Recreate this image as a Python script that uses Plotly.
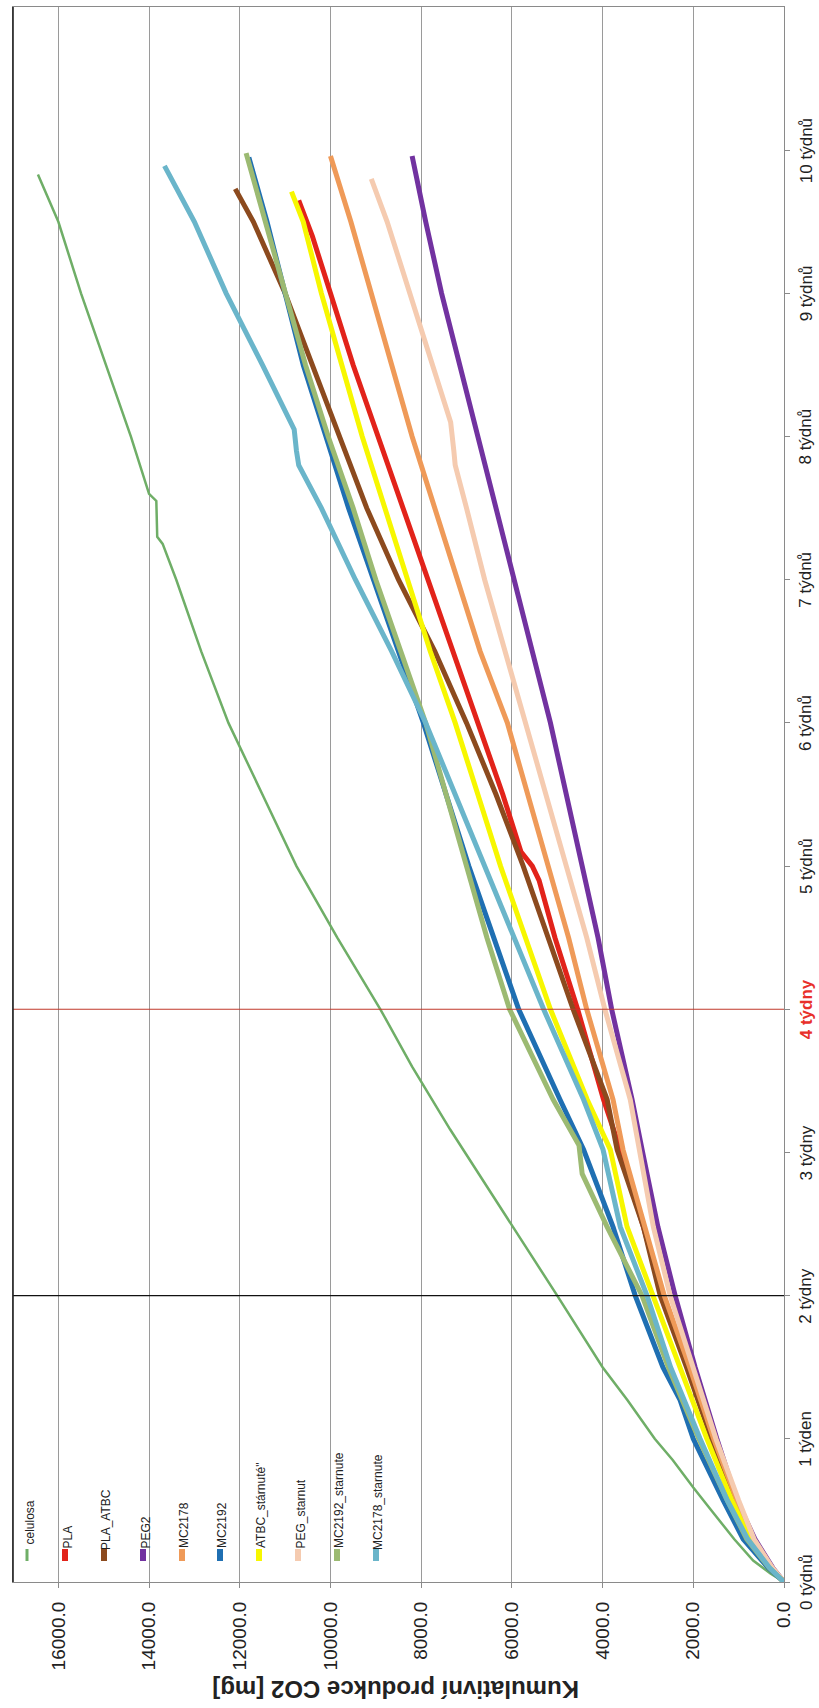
import plotly.graph_objects as go

# ---------------- data (time in weeks, cumulative CO2 in mg) ----------------
series_names = ["celulosa", "PLA", "PLA_ATBC", "PEG2", "MC2178", "MC2192",
                "ATBC_stárnuté\"", "PEG_starnut", "MC2192_starnute", "MC2178_starnute"]

celulosa_t = [0, 0.06, 0.15, 0.3, 0.5, 0.66, 0.85, 1.0, 1.27, 1.5, 2.0, 2.48, 3.16, 3.6, 4.0, 4.5, 5.0,
              5.5, 6.0, 6.5, 7.0, 7.25, 7.3, 7.55, 7.6, 8.0, 8.5, 9.0, 9.5, 9.83]
celulosa_v = [0, 300, 680, 1100, 1600, 2000, 2450, 2850, 3450, 4000, 5000, 5970, 7360, 8200, 8900, 9850,
              10750, 11500, 12250, 12850, 13400, 13700, 13820, 13840, 14000, 14400, 14950, 15500, 16000, 16450]

pla_t = [0, 0.1, 0.3, 0.57, 1.0, 1.5, 2.0, 2.48, 3.02, 3.37, 4.0, 4.5, 4.9, 5.0, 5.1, 5.5, 6.0, 6.5, 7.0,
         7.5, 8.0, 8.5, 9.0, 9.4, 9.65]
pla_v = [0, 280, 690, 1060, 1580, 2120, 2670, 3100, 3610, 3980, 4550, 5050, 5400, 5550, 5800, 6200, 6750,
         7300, 7850, 8400, 8950, 9500, 10000, 10400, 10700]

pla_atbc_t = [0, 0.1, 0.3, 0.57, 1.0, 1.5, 2.0, 2.48, 3.02, 3.37, 4.0, 4.5, 5.0, 5.5, 6.0, 6.5, 7.0, 7.5,
              8.0, 8.5, 9.0, 9.5, 9.73]
pla_atbc_v = [0, 280, 700, 1080, 1600, 2150, 2730, 3100, 3680, 3900, 4650, 5200, 5750, 6350, 7000, 7700,
              8500, 9200, 9800, 10400, 11000, 11700, 12100]

peg2_t = [0, 0.1, 0.3, 0.57, 1.0, 1.5, 2.0, 2.48, 3.02, 3.37, 4.0, 4.5, 5.0, 5.5, 6.0, 6.5, 7.0, 7.5, 8.0,
          8.5, 9.0, 9.5, 9.96]
peg2_v = [0, 250, 640, 1040, 1480, 1960, 2400, 2780, 3130, 3350, 3800, 4100, 4450, 4800, 5150, 5550, 5950,
          6350, 6750, 7150, 7550, 7900, 8200]

mc2178_t = [0, 0.1, 0.3, 0.57, 1.0, 1.5, 2.0, 2.48, 3.02, 3.37, 4.0, 4.5, 5.0, 5.5, 6.0, 6.5, 7.0, 7.5,
            8.0, 8.5, 9.0, 9.5, 9.96]
mc2178_v = [0, 270, 680, 1040, 1550, 2080, 2640, 3080, 3550, 3770, 4350, 4750, 5200, 5650, 6100, 6700,
            7200, 7700, 8200, 8650, 9100, 9550, 10000]

mc2192_t = [0, 0.1, 0.3, 0.57, 1.0, 1.27, 1.5, 2.0, 2.48, 3.02, 3.37, 4.0, 4.5, 5.0, 5.5, 6.0, 6.5, 7.0,
            7.5, 8.0, 8.5, 9.0, 9.5, 9.95]
mc2192_v = [0, 350, 900, 1340, 2000, 2290, 2670, 3280, 3770, 4420, 4940, 5850, 6400, 6950, 7450, 7950,
            8500, 9050, 9600, 10100, 10600, 11000, 11400, 11800]

atbc_t = [0, 0.1, 0.3, 0.57, 1.0, 1.5, 2.0, 2.48, 3.02, 3.37, 4.0, 4.5, 5.0, 5.5, 6.0, 6.5, 7.0, 7.5, 8.0,
          8.5, 9.0, 9.5, 9.71]
atbc_v = [0, 300, 750, 1150, 1700, 2290, 2880, 3460, 3830, 4340, 5150, 5700, 6250, 6750, 7250, 7800, 8300,
          8800, 9300, 9750, 10200, 10600, 10860]

peg_st_t = [0, 0.1, 0.3, 0.57, 1.0, 1.5, 2.0, 2.48, 3.02, 3.37, 4.0, 4.5, 5.0, 5.5, 6.0, 6.5, 7.0, 7.5,
            7.8, 7.9, 8.1, 8.5, 9.0, 9.5, 9.8]
peg_st_v = [0, 260, 660, 1000, 1500, 2000, 2510, 2880, 3200, 3390, 3950, 4350, 4800, 5250, 5700, 6150,
            6600, 7000, 7250, 7280, 7350, 7750, 8250, 8750, 9100]

mc2192_st_t = [0, 0.1, 0.3, 0.57, 1.0, 1.5, 2.0, 2.48, 2.85, 3.05, 3.37, 4.0, 4.5, 5.0, 5.5, 6.0, 6.5,
               7.0, 7.5, 8.0, 8.5, 9.0, 9.5, 9.98]
mc2192_st_v = [0, 330, 820, 1250, 1880, 2550, 3130, 3900, 4450, 4520, 5090, 6050, 6550, 7000, 7450, 7900,
               8450, 9000, 9500, 10050, 10550, 11000, 11450, 11860]

mc2178_st_t = [0, 0.1, 0.3, 0.57, 1.0, 1.5, 2.0, 2.48, 3.02, 3.37, 4.0, 4.5, 5.0, 5.5, 6.0, 6.5, 7.0,
               7.5, 7.8, 7.9, 8.05, 8.5, 9.0, 9.5, 9.89]
mc2178_st_v = [0, 320, 800, 1250, 1850, 2500, 3020, 3610, 3990, 4420, 5300, 5950, 6600, 7250, 7900, 8650,
               9450, 10200, 10700, 10750, 10800, 11500, 12300, 13000, 13660]

week_ticks = [0, 1, 2, 3, 4, 5, 6, 7, 8, 9, 10]
week_labels = ["0 týdnů", "1 týden", "2 týdny", "3 týdny", "4 týdny", "5 týdnů", "6 týdnů",
               "7 týdnů", "8 týdnů", "9 týdnů", "10 týdnů"]
co2_ticks = [0, 2000, 4000, 6000, 8000, 10000, 12000, 14000, 16000]

# ---------------- styles ----------------
colors = ["#6fae67", "#e2231a", "#8c4a1e", "#7232a0", "#ef9a58", "#1f6fb2",
          "#f7f700", "#f5cbb0", "#9cba72", "#6ab5ca"]
widths = [2.5, 5, 5, 5, 5, 5, 5, 5, 5, 5]
legend_text_len = [47, 17, 52, 27, 42, 42, 80, 63, 92, 88]   # approximate rendered lengths (px)

all_t = [celulosa_t, pla_t, pla_atbc_t, peg2_t, mc2178_t, mc2192_t, atbc_t, peg_st_t, mc2192_st_t, mc2178_st_t]
all_v = [celulosa_v, pla_v, pla_atbc_v, peg2_v, mc2178_v, mc2192_v, atbc_v, peg_st_v, mc2192_st_v, mc2178_st_v]

W, H = 819, 1708
L, R, T, B = 13, 784, 7, 1582

def px_x(px):
    return (px - L) / (R - L)

def px_y(py):
    return (B - py) / (B - T)

fig = go.Figure()
for name, t, v, c, w in zip(series_names, all_t, all_v, colors, widths):
    fig.add_trace(go.Scatter(x=v, y=t, mode="lines", name=name,
                             line=dict(color=c, width=w), showlegend=False))

FONT = "Arial, Liberation Sans, sans-serif"

fig.update_layout(
    width=W, height=H,
    margin=dict(l=L, r=W - R, t=T, b=H - B),
    paper_bgcolor="white", plot_bgcolor="white",
    font=dict(family=FONT, color="#222"),
    xaxis=dict(range=[17000, 0], tickvals=co2_ticks, tickformat=".1f", tickangle=-90,
               tickfont=dict(size=19, color="#222"), showgrid=True, gridcolor="#9a9a9a",
               gridwidth=1.2, zeroline=False, showline=True, linecolor="#8a8a8a", linewidth=1.2,
               mirror=True, ticks="outside", ticklen=5, tickcolor="#8a8a8a", ticklabelstandoff=6),
    yaxis=dict(range=[0, 11], side="right", tickvals=week_ticks, showticklabels=False,
               showgrid=False, zeroline=False,
               showline=True, linecolor="#8a8a8a", linewidth=1.2, mirror=True,
               ticks="outside", ticklen=5, tickcolor="#8a8a8a"),
)

# week tick labels (rotated, drawn as annotations)
for wk, lab in zip(week_ticks, week_labels):
    if lab.startswith("4 "):
        txt, col = "<b>" + lab + "</b>", "#e8302a"
    else:
        txt, col = lab, "#222"
    fig.add_annotation(text=txt, xref="paper", yref="y", x=px_x(806), y=wk, textangle=-90,
                       showarrow=False, xanchor="center", yanchor="middle",
                       font=dict(size=17, color=col, family=FONT))

# 2-week and 4-week reference lines
fig.add_shape(type="line", xref="paper", yref="y", x0=0, x1=1, y0=2, y1=2,
              line=dict(color="#111", width=1.3))
fig.add_shape(type="line", xref="paper", yref="y", x0=0, x1=1, y0=4, y1=4,
              line=dict(color="#c0392b", width=1.2))
# dark left border
fig.add_shape(type="line", xref="paper", yref="paper", x0=0, x1=0, y0=0, y1=1,
              line=dict(color="#222", width=1.6))

# axis title (upside down)
fig.add_annotation(text="<b>Kumulativní produkce CO2 [mg]</b>", xref="paper", yref="paper",
                   x=px_x(396), y=px_y(1690), textangle=180, showarrow=False,
                   font=dict(size=24, color="#222", family=FONT),
                   xanchor="center", yanchor="middle")

# rotated legend
leg_x = [27, 65, 104, 143, 182, 220, 259, 298, 337, 376]
for name, c, w, lx, ln in zip(series_names, colors, widths, leg_x, legend_text_len):
    fig.add_shape(type="line", xref="paper", yref="paper", x0=px_x(lx), x1=px_x(lx),
                  y0=px_y(1549), y1=px_y(1561), line=dict(color=c, width=6 if w > 3 else 3))
    fig.add_annotation(text=name, xref="paper", yref="paper", x=px_x(lx + 2), y=px_y(1546 - ln / 2),
                       textangle=-90, showarrow=False, xanchor="center", yanchor="middle",
                       font=dict(size=12, color="#222", family="Liberation Sans Narrow, Arial Narrow, Arial"))

# remove default page margin so the 819x1708 figure fills the window exactly
fig.write_html("out.html", config={"displayModeBar": False},
               post_script="document.body.style.margin='0';document.body.style.overflow='hidden';")
